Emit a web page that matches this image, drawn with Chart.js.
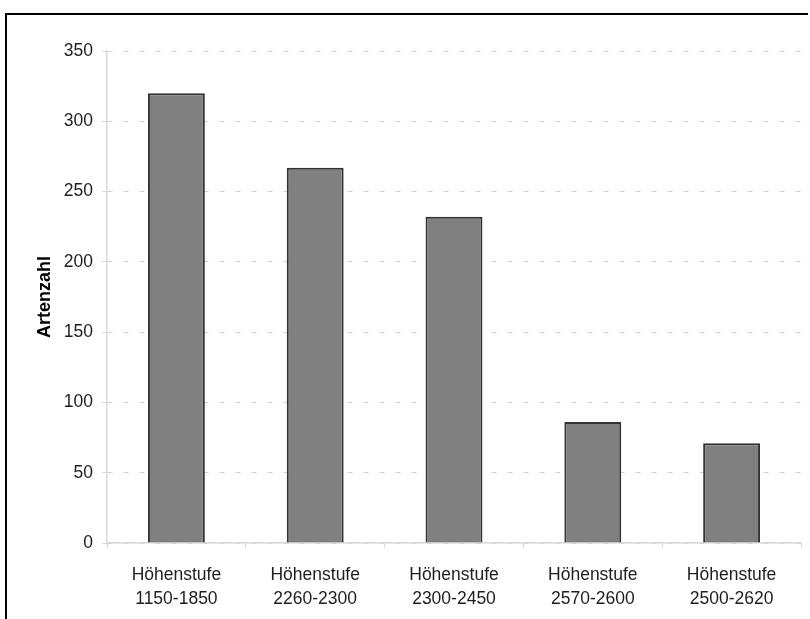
<!DOCTYPE html>
<html><head><meta charset="utf-8">
<script src="https://cdn.jsdelivr.net/npm/chart.js@4/dist/chart.umd.min.js"></script>
<style>
html,body{margin:0;padding:0;background:#fff;}
#wrap{position:relative;width:810px;height:619px;overflow:hidden;background:#fff;}
#frame{position:absolute;left:5px;top:13px;width:801px;height:700px;border-top:2px solid #000;border-left:2px solid #000;}
canvas{position:absolute;left:0;top:0;}
</style></head><body>
<div id="wrap"><div id="frame"></div><canvas id="c" width="810" height="619"></canvas></div>
<script>
const categories = [
  ["Höhenstufe", "1150-1850"],
  ["Höhenstufe", "2260-2300"],
  ["Höhenstufe", "2300-2450"],
  ["Höhenstufe", "2570-2600"],
  ["Höhenstufe", "2500-2620"]
];
const artenzahl = [320, 267, 232, 86, 71];
const yMin = 0, yMax = 350, yStep = 50;
const yTitle = "Artenzahl";

const FONT = "'Liberation Sans', Arial, sans-serif";

new Chart(document.getElementById('c'), {
  type: 'bar',
  data: {
    labels: categories,
    datasets: [{
      data: artenzahl,
      backgroundColor: '#808080',
      borderColor: '#333333',
      borderWidth: 2,
      categoryPercentage: 1,
      barPercentage: 0.41
    }]
  },
  options: {
    responsive: false,
    animation: false,
    layout: { padding: { left: 34, top: 51, right: 9, bottom: 0 } },
    plugins: { legend: { display: false }, tooltip: { enabled: false } },
    scales: {
      x: {
        afterFit: s => { s.height = 76; },
        grid: { display: true, drawOnChartArea: false, drawTicks: true, tickLength: 5, color: '#d8d8d8', tickColor: '#d8d8d8', offset: true },
        border: { display: true, color: '#d8d8d8', width: 1.5 },
        ticks: { color: '#1e1e1e', font: { family: FONT, size: 17.5, lineHeight: 1.36 }, padding: 15, maxRotation: 0, autoSkip: false }
      },
      y: {
        min: yMin, max: yMax,
        afterFit: s => { s.width = 73; },
        grid: { color: '#d0d0d0', lineWidth: 1, drawTicks: true, tickLength: 5, tickColor: '#d8d8d8', tickBorderDash: [] },
        border: { display: true, color: '#d8d8d8', width: 1.5, dash: [5, 11] },
        ticks: { stepSize: yStep, color: '#1e1e1e', font: { family: FONT, size: 17.5 }, padding: 9 },
        title: { display: true, text: yTitle, color: '#000', padding: 0, font: { family: FONT, size: 18, weight: 'bold' } }
      }
    }
  }
});
</script>
</body></html>
